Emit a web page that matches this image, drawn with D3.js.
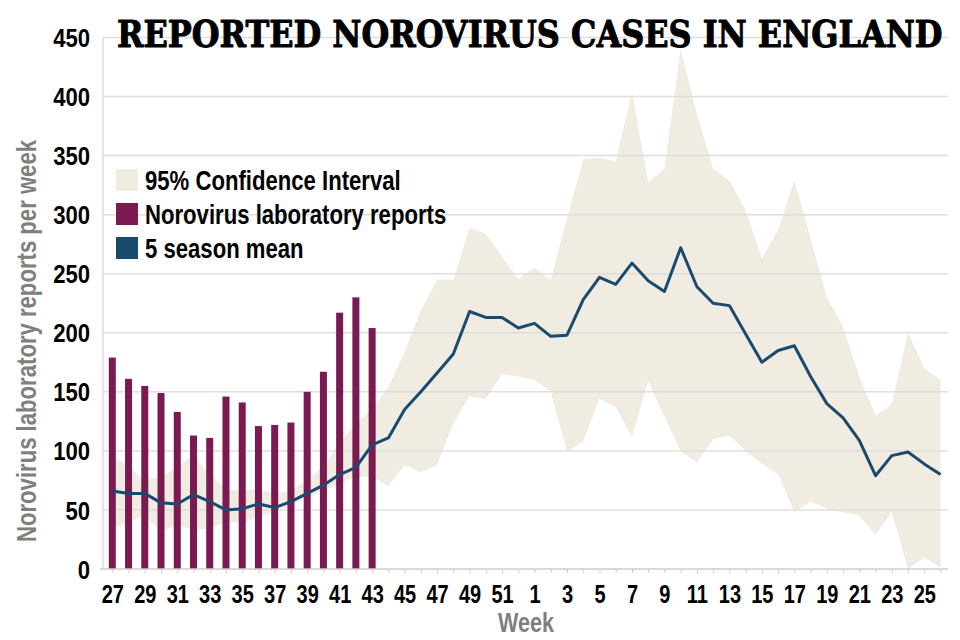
<!DOCTYPE html>
<html>
<head>
<meta charset="utf-8">
<script src="https://cdn.jsdelivr.net/npm/d3@7/dist/d3.min.js"></script>
<style>
  html, body { margin: 0; padding: 0; background: #ffffff; }
  svg { display: block; }
  .cond { font-family: 'Liberation Sans', Arial, sans-serif; font-weight: bold; }
</style>
</head>
<body>
<svg id="chart" width="960" height="640"></svg>
<script>
// ---- data ----
const weeks = [27,28,29,30,31,32,33,34,35,36,37,38,39,40,41,42,43,44,45,46,47,48,49,50,51,52,
               1,2,3,4,5,6,7,8,9,10,11,12,13,14,15,16,17,18,19,20,21,22,23,24,25,26];
const reportWeeks = [27,28,29,30,31,32,33,34,35,36,37,38,39,40,41,42,43];
const reports = [179,161,155,149,133,113,111,146,141,121,122,124,150,167,217,230,204];
const seasonMean = [66,64,64,56,55,63,57,50,51,55,52,57,64,71,80,86,105,111,135,150,166,182,218,213,213,204,
                    208,197,198,228,247,241,259,244,235,272,239,225,223,199,175,185,189,163,140,128,109,79,96,99,89,80];
const ciUpper = [96,87,75,78,86,97,80,68,66,68,64,67,75,87,107,123,135,154,184,219,245,245,289,284,264,246,
                 255,245,297,347,348,345,404,327,339,440,385,339,329,304,263,287,329,280,230,205,163,130,140,200,170,160];
const ciLower = [34,40,45,32,37,33,34,40,39,44,48,54,61,67,72,78,78,70,88,82,88,123,146,144,165,163,
                 160,150,99,108,144,137,112,159,129,100,90,110,113,100,89,80,48,57,51,48,45,29,48,0,10,1];
const yTicks = [0,50,100,150,200,250,300,350,400,450];
const legendItems = ["95% Confidence Interval", "Norovirus laboratory reports", "5 season mean"];
const titleText = "REPORTED NOROVIRUS CASES IN ENGLAND";

// ---- styles ----
const C_CI = "#f0ece1", C_BAR = "#7b1a50", C_LINE = "#1b4a6f", C_GRID = "#dcdcdc", C_GREY = "#7f7f7f";
const SX = 0.8; // horizontal condensing of the sans text

const svg = d3.select("#chart");
const idx = d3.range(weeks.length);
const x = d3.scalePoint().domain(idx).range([112.3, 940.5]);
const y = d3.scaleLinear().domain([0, 450]).range([569, 37.5]);
const gridX0 = 103, gridX1 = 948;

// CI band
const area = d3.area().x(i => x(i)).y0(i => y(ciLower[i])).y1(i => y(ciUpper[i]));
svg.append("path").datum(idx).attr("d", area).attr("fill", C_CI);

// gridlines
svg.append("g").selectAll("line").data(yTicks.filter(d => d > 0)).join("line")
  .attr("x1", gridX0).attr("x2", gridX1)
  .attr("y1", d => y(d)).attr("y2", d => y(d))
  .attr("stroke", C_GRID).attr("stroke-width", 1.5).attr("opacity", 0.9);

// y axis line
svg.append("line").attr("x1", gridX0).attr("x2", gridX0).attr("y1", y(450)).attr("y2", y(0))
  .attr("stroke", C_GRID).attr("stroke-width", 1.5);

// bars
const bw = 7;
svg.append("g").selectAll("rect").data(reports).join("rect")
  .attr("x", (d, i) => x(weeks.indexOf(reportWeeks[i])) - bw / 2)
  .attr("width", bw)
  .attr("y", d => y(d))
  .attr("height", d => y(0) - y(d))
  .attr("fill", C_BAR);

// mean line
const line = d3.line().x(i => x(i)).y(i => y(seasonMean[i]));
svg.append("path").datum(idx).attr("d", line).attr("fill", "none")
  .attr("stroke", C_LINE).attr("stroke-width", 3).attr("stroke-linejoin", "round");

// x axis
const xAxis = d3.axisBottom(x).tickSize(4).tickPadding(12)
  .tickFormat(i => (i % 2 === 0 ? weeks[i] : ""));
const gx = svg.append("g").attr("transform", `translate(0,${y(0)})`).call(xAxis);
gx.select(".domain").remove();
gx.append("line").attr("x1", 100).attr("x2", gridX1).attr("y1", 0).attr("y2", 0)
  .attr("stroke", "#cccccc").attr("stroke-width", 1.5);
gx.selectAll(".tick line").attr("stroke", "#cccccc").attr("stroke-width", 1);
gx.selectAll(".tick text").attr("class", "cond").attr("fill", "#000").attr("font-size", 25)
  .attr("dy", null).attr("y", 0).attr("transform", `translate(0,34) scale(${SX},1)`);

// y axis labels
const yAxis = d3.axisLeft(y).tickValues(yTicks).tickSize(0).tickPadding(0);
const gy = svg.append("g").attr("transform", `translate(90,0)`).call(yAxis);
gy.select(".domain").remove();
gy.selectAll(".tick text").attr("class", "cond").attr("fill", "#000").attr("font-size", 26)
  .attr("dy", "0.35em").attr("x", 0).attr("transform", `scale(${SX + 0.05},1)`);

// axis titles
svg.append("text").attr("class", "cond").attr("fill", C_GREY).attr("font-size", 27)
  .attr("text-anchor", "middle")
  .attr("transform", `translate(36,341) rotate(-90) scale(0.82,1)`)
  .text("Norovirus laboratory reports per week");
svg.append("text").attr("class", "cond").attr("fill", C_GREY).attr("font-size", 27)
  .attr("text-anchor", "middle").attr("transform", `translate(526,632) scale(${SX},1)`).text("Week");

// legend
const legColors = [C_CI, C_BAR, C_LINE];
const leg = svg.append("g").selectAll("g").data(legendItems).join("g")
  .attr("transform", (d, i) => `translate(116,${169 + i * 34})`);
leg.append("rect").attr("width", 22).attr("height", 22).attr("fill", (d, i) => legColors[i]);
leg.append("text").attr("class", "cond").attr("transform", `translate(29,21) scale(0.82,1)`)
  .attr("font-size", 27).attr("fill", "#000").text(d => d);

// title: measured then fitted horizontally to span 117..943
const title = svg.append("text").attr("x", 0).attr("y", 0)
  .attr("font-family", "'DejaVu Serif Condensed', 'DejaVu Serif', serif")
  .attr("font-weight", "bold").attr("font-size", 36)
  .attr("fill", "#000").attr("stroke", "#000").attr("stroke-width", 0.9)
  .attr("stroke-linejoin", "round").text(titleText);
const natural = title.node().getComputedTextLength();
title.attr("transform", `translate(117,47) scale(${826 / natural},1.03)`);
</script>
</body>
</html>
